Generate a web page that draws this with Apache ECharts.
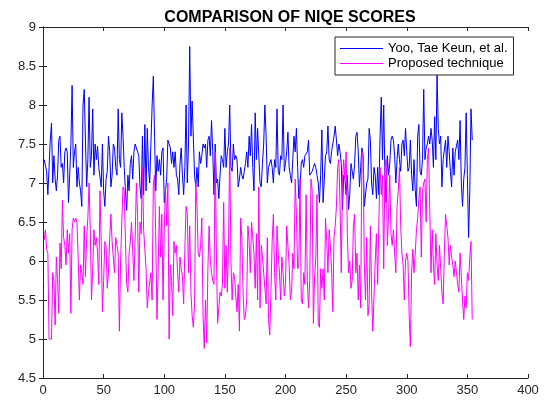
<!DOCTYPE html>
<html>
<head>
<meta charset="utf-8">
<script src="https://cdn.jsdelivr.net/npm/echarts/dist/echarts.min.js"></script>
<style>
  html, body { margin: 0; padding: 0; background: #fff; }
  #chart { width: 554px; height: 403px; }
</style>
</head>
<body>
<div id="chart"></div>
<script>
// NIQE scores per image
const yooScores = [
  7.3, 7.3, 7.15, 6.85, 7.2, 7.55, 7.77, 7.0, 7.35, 7.05,
  6.9, 7.1, 7.55, 7.6, 7.2, 7.25, 7.0, 7.4, 7.45, 7.4,
  6.75, 7.1, 7.5, 8.25, 7.2, 7.4, 7.5, 6.95, 7.2, 7.0,
  6.9, 6.7, 8.0, 8.2, 7.55, 6.95, 7.3, 8.1, 7.2, 7.35,
  7.95, 7.1, 7.5,
  7.3, 7.47, 7.2, 7.22, 6.95, 7.5, 6.9, 6.7, 7.05, 7.15,
  7.6, 7.4, 6.95, 7.1, 7.5, 7.45, 7.2, 7.1, 7.95, 7.3,
  7.2, 7.9, 7.6, 7.2, 6.9, 6.65, 7.1, 6.9, 7.25, 7.35,
  7.05, 7.4, 7.5, 7.45, 7.45, 7.35, 6.95, 6.8, 7.6, 6.85,
  7.75, 6.9, 7.7, 7.2,
  7.0, 7.5, 8.0, 8.37, 7.6, 6.9, 7.35, 7.15, 7.3, 7.1,
  7.4, 7.45, 6.75, 6.75, 7.05, 7.55, 7.5, 7.45, 7.25, 7.4,
  7.2, 7.4, 7.1, 7.05, 6.85, 7.25, 7.45, 7.1, 6.85, 7.2,
  8.0, 7.0, 7.5, 8.75, 7.6, 8.05, 8.05, 7.1, 6.95, 7.2,
  6.95, 7.4, 7.25, 7.35, 7.5,
  7.45, 7.5, 7.2, 7.55, 7.6, 7.35, 7.8, 7.4, 6.85, 7.5,
  7.0, 7.05, 6.8, 7.1, 7.35, 7.3, 7.2, 7.7, 7.2, 7.4,
  7.5, 8.0, 7.2, 7.15, 7.5, 7.3, 7.35, 7.3, 6.95, 7.05,
  7.2, 7.1, 7.05, 7.15, 7.25, 7.4, 7.2, 7.6, 7.35, 7.75,
  7.2, 6.9, 7.9, 7.3, 7.7,
  7.7, 7.0, 6.95, 7.25, 7.5, 8.0, 7.6, 7.0, 7.2, 7.2,
  7.3, 7.2, 7.0, 7.3, 7.2, 7.95, 7.15, 7.1, 7.35, 7.3,
  8.0, 7.15, 7.25, 7.4, 7.65, 7.2, 7.1, 7.0, 7.3, 7.6,
  7.4, 7.7, 7.2, 6.8, 6.95, 7.25, 7.3, 7.2, 7.35, 7.35,
  7.4, 7.55, 7.1, 7.1, 7.15,
  7.2, 7.25, 7.2, 7.1, 7.0, 6.75, 7.1, 7.68, 6.75, 7.05,
  7.35, 7.4, 7.73, 7.3, 7.25, 7.4, 7.4, 7.6, 7.73, 7.55,
  7.35, 7.5, 7.4, 7.25, 6.66, 7.1, 7.05, 6.85, 7.1, 6.66,
  6.85, 7.25, 7.25, 7.05, 7.25, 7.6, 7.65, 7.4, 6.95, 7.2,
  7.45, 7.35, 6.7, 6.7,
  7.0, 7.05, 7.7, 7.55, 7.0, 6.85, 7.2, 7.1, 6.8, 7.2,
  6.85, 7.6, 8.1, 7.3, 8.0, 7.1, 6.75, 7.35, 7.1, 7.25,
  7.55, 7.6, 7.55, 7.35, 7.0, 7.3, 7.5, 7.3, 7.15, 7.5,
  7.55, 7.35, 7.7, 7.4, 7.15, 7.2, 7.55, 7.1, 6.9, 7.3,
  6.9, 6.7, 7.6, 7.75, 7.15,
  7.1, 7.3, 8.2, 7.3, 7.45, 7.5, 7.6, 7.5, 7.7, 7.55,
  7.2, 7.85, 7.3, 8.4, 7.7, 7.5, 7.6, 6.95, 7.3, 7.3,
  7.55, 7.2, 7.6, 7.4, 7.15, 6.95, 7.45, 7.1, 7.4, 7.4,
  7.55, 7.3, 7.8, 7.0, 6.7, 7.05, 7.2, 7.9, 7.1, 6.3,
  6.9, 7.95, 7.55
];

const proposedScores = [
  6.27, 6.4, 6.15, 6.1, 5.0, 5.0, 5.0, 5.85, 5.75, 5.18,
  6.05, 5.76, 5.33, 6.23, 5.9, 6.78, 6.3, 6.2, 5.95, 6.4,
  6.1, 6.35, 5.33, 6.4, 6.55, 6.5, 6.55, 6.5, 6.05, 5.5,
  5.95, 5.85, 5.7, 6.45, 5.8, 6.3, 6.55, 7.0, 6.4, 5.5,
  5.9, 6.4, 6.2,
  6.3, 6.1, 5.7, 6.9, 6.25, 5.35, 5.75, 6.25, 6.2, 5.65,
  5.85, 6.3, 6.6, 6.25, 6.05, 5.85, 6.3, 6.2, 6.1, 5.1,
  6.0, 6.5, 6.95, 6.9, 6.25, 5.7, 5.6, 6.1, 6.25, 6.5,
  6.5, 5.75, 6.3, 7.0, 6.6, 5.6, 6.5, 6.35, 7.2, 6.4,
  6.4, 5.9, 5.4, 5.6,
  5.6, 5.85, 5.5, 7.0, 7.1, 6.3, 5.25, 5.9, 6.7, 6.05,
  6.6, 5.5, 6.4, 6.95, 6.45, 7.0, 5.0, 5.95, 5.75, 5.3,
  6.25, 6.1, 6.2, 5.85, 5.6, 6.05, 5.9, 5.8, 5.45, 6.15,
  6.7, 6.6, 5.85, 6.45, 5.6, 5.3, 5.15, 5.45, 7.0, 6.7,
  6.1, 6.05, 6.2, 6.55, 5.3,
  4.88, 5.5, 4.95, 5.9, 6.45, 6.0, 5.85, 5.75, 5.7, 7.4,
  6.1, 5.2, 5.4, 5.6, 5.55, 5.7, 6.75, 5.65, 6.2, 5.6,
  6.2, 7.45, 6.0, 5.5, 5.85, 5.8, 5.55, 5.35, 5.7, 5.1,
  6.55, 6.3, 5.6, 5.25, 5.3, 5.5, 6.45, 6.25, 5.85, 6.5,
  6.5, 6.1, 5.65, 6.35, 5.5,
  6.95, 5.4, 6.2, 6.05, 5.85, 5.65, 5.45, 6.3, 5.25, 5.05,
  5.6, 6.25, 6.6, 5.85, 5.5, 6.45, 6.1, 5.85, 5.5, 6.05,
  5.85, 5.55, 5.7, 6.45, 6.2, 5.95, 5.5, 5.6, 6.1, 5.9,
  7.05, 6.6, 5.9, 5.95, 7.05, 5.5, 5.45, 5.85, 5.7, 6.85,
  5.75, 5.4, 5.75, 7.05, 6.9,
  5.2, 5.8, 6.05, 6.85, 5.2, 5.15, 5.9, 5.65, 5.9, 5.5,
  6.55, 6.25, 5.85, 6.4, 6.2, 5.9, 5.35, 6.3, 6.45, 6.7,
  7.2, 7.3, 6.7, 5.85, 7.05, 7.3, 7.05, 7.4, 6.35, 5.85,
  6.0, 5.65, 5.75, 6.45, 6.6, 5.85, 6.1, 5.5, 5.95, 5.4,
  7.4, 7.35, 5.95, 5.5,
  6.3, 5.3, 5.45, 6.45, 5.6, 5.1, 5.1, 6.0, 6.35, 5.7,
  6.5, 7.2, 6.85, 7.1, 5.9, 7.2, 7.3, 6.2, 6.6, 7.1,
  6.35, 6.2, 6.4, 6.1, 5.85, 6.7, 6.9, 7.2, 6.45, 6.1,
  5.95, 5.5, 6.0, 6.1, 6.0, 5.3, 4.9, 5.85, 6.15, 5.85,
  6.1, 6.4, 6.55, 6.8, 6.95,
  6.05, 6.9, 7.0, 7.05, 6.5, 7.3, 7.45, 6.65, 5.85, 6.4,
  5.95, 5.7, 6.35, 5.95, 5.75, 6.2, 5.9, 5.6, 5.45, 6.1,
  6.6, 6.6, 6.3, 5.95, 6.2, 6.05, 5.95, 5.8, 6.0, 5.85,
  5.7, 5.6, 6.1, 5.8, 5.5, 5.25, 5.55, 5.4, 5.85, 5.75,
  6.05, 6.25, 5.25
];

const seriesNames = ['Yoo, Tae Keun, et al.', 'Proposed technique'];
const xRange = [0, 400, 50];   // min, max, step
const yRange = [4.5, 9, 0.5];

const toPoints = arr => arr.map((v, i) => [i + 1, v]);

const axisColor = '#262626';
const labelFont = { color: axisColor, fontSize: 13, fontFamily: 'Liberation Sans' };

const chart = echarts.init(document.getElementById('chart'));
chart.setOption({
  animation: false,
  backgroundColor: '#fff',
  title: {
    text: 'COMPARISON OF NIQE SCORES',
    left: 285,
    textAlign: 'center',
    top: 5,
    textStyle: { fontSize: 16, fontWeight: 'bold', color: '#000', fontFamily: 'Liberation Sans' }
  },
  grid: { left: 43, right: 26, top: 27, bottom: 25 },
  legend: {
    orient: 'vertical',
    left: 335,
    top: 37,
    padding: [4, 6, 4, 5],
    icon: 'rect',
    itemWidth: 43,
    itemHeight: 1,
    itemGap: 0,
    backgroundColor: '#fff',
    borderColor: axisColor,
    borderWidth: 1,
    textStyle: { fontSize: 13, color: '#000', fontFamily: 'Liberation Sans', lineHeight: 15 },
    data: seriesNames
  },
  xAxis: [{
    type: 'value', min: xRange[0], max: xRange[1], interval: xRange[2],
    axisLine: { show: true, lineStyle: { color: axisColor, width: 1 } },
    axisTick: { show: true, inside: true, length: 4, lineStyle: { color: axisColor } },
    axisLabel: Object.assign({ margin: 6 }, labelFont),
    splitLine: { show: false }
  }, {
    type: 'value', position: 'top', min: xRange[0], max: xRange[1], interval: xRange[2],
    axisLine: { show: true, lineStyle: { color: axisColor, width: 1 } },
    axisTick: { show: true, inside: true, length: 4, lineStyle: { color: axisColor } },
    axisLabel: { show: false },
    splitLine: { show: false }
  }],
  yAxis: [{
    type: 'value', min: yRange[0], max: yRange[1], interval: yRange[2],
    axisLine: { show: true, lineStyle: { color: axisColor, width: 1 } },
    axisTick: { show: true, inside: true, length: 4, lineStyle: { color: axisColor } },
    axisLabel: Object.assign({ margin: 7 }, labelFont),
    splitLine: { show: false }
  }, {
    type: 'value', position: 'right', min: yRange[0], max: yRange[1], interval: yRange[2],
    axisLine: { show: true, lineStyle: { color: axisColor, width: 1 } },
    axisTick: { show: true, inside: true, length: 4, lineStyle: { color: axisColor } },
    axisLabel: { show: false },
    splitLine: { show: false }
  }],
  series: [{
    name: seriesNames[0],
    type: 'line',
    symbol: 'none',
    data: toPoints(yooScores),
    lineStyle: { color: '#0000ff', width: 1 },
    itemStyle: { color: '#0000ff' }
  }, {
    name: seriesNames[1],
    type: 'line',
    symbol: 'none',
    data: toPoints(proposedScores),
    lineStyle: { color: '#ff00ff', width: 1 },
    itemStyle: { color: '#ff00ff' }
  }]
});
</script>
</body>
</html>
